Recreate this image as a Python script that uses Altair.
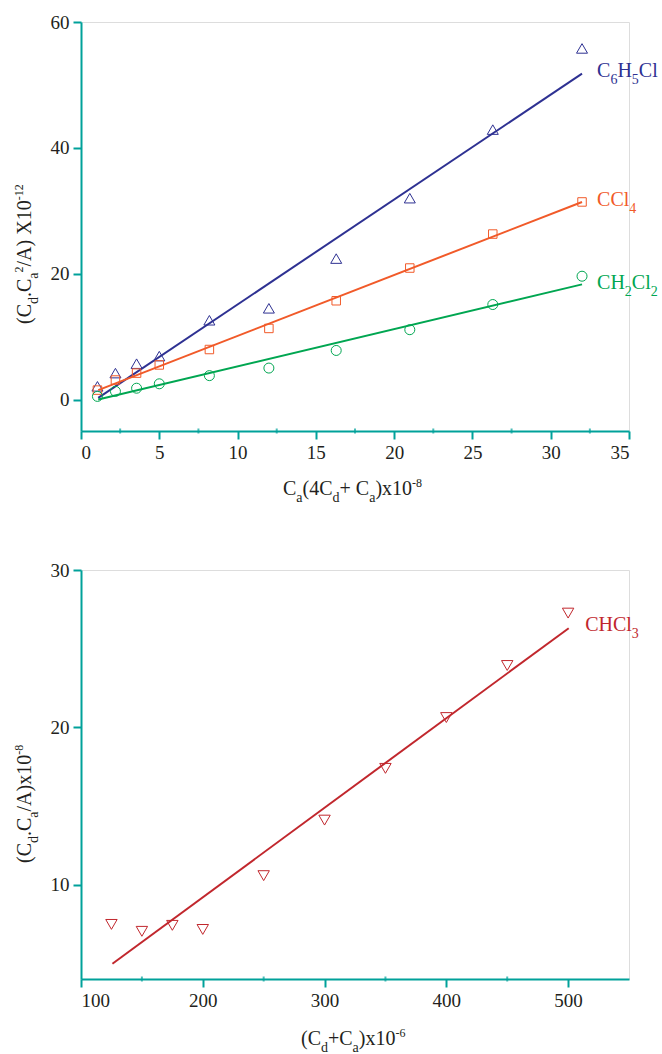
import altair as alt
import pandas as pd

# ---------------- data ----------------
# top panel
top_x = [1.05, 2.2, 3.55, 5.0, 8.2, 12.0, 16.3, 21.0, 26.3, 32.0]
c6h5cl_y = [2.1, 4.2, 5.7, 6.9, 12.6, 14.5, 22.4, 32.0, 42.9, 55.8]
ccl4_y = [1.5, 3.1, 4.2, 5.5, 7.95, 11.3, 15.7, 20.9, 26.3, 31.4]
ch2cl2_y = [0.5, 1.3, 1.8, 2.5, 3.8, 5.0, 7.8, 11.1, 15.1, 19.6]
fit_x = [1.1, 32.0]
c6h5cl_fit = [0.27, 51.8]
ccl4_fit = [1.5, 31.4]
ch2cl2_fit = [0.0, 18.3]
top_label_x = [32.96, 32.96, 32.96]
top_label_y = [51.2, 30.7, 17.5]
top_xticks = [0, 5, 10, 15, 20, 25, 30, 35]
top_xminor = [2.5, 7.5, 12.5, 17.5, 22.5, 27.5, 32.5]
top_yticks = [0, 20, 40, 60]

# bottom panel
bot_x = [125, 150, 175, 200, 250, 300, 350, 400, 450, 500]
chcl3_y = [7.47, 7.03, 7.41, 7.15, 10.57, 14.10, 17.39, 20.62, 23.93, 27.26]
chcl3_fit_x = [125.8, 500.5]
chcl3_fit = [4.97, 26.3]
bot_label_x = [514.0]
bot_label_y = [26.1]
bot_xticks = [100, 200, 300, 400, 500]
bot_xminor = [150, 250, 350, 450]
bot_yticks = [10, 20, 30]

# ---------------- styling ----------------
FONT = "Liberation Serif"
TEAL = "#00A19A"
TXT = "#231F20"
BLUE = "#2E3192"
ORANGE = "#F15A29"
GREEN = "#00A651"
RED = "#C1272D"

# Times / Liberation Serif advance widths (per 1000 em)
W = {' ': 250, '(': 333, ')': 333, '+': 564, '-': 333, '.': 250, '/': 278,
     'A': 722, 'C': 667, 'H': 722, 'X': 722, 'a': 444, 'd': 500, 'l': 278, 'x': 500}


def tw(s, size):
    return sum(W.get(c, 500) for c in s) * size / 1000.0


def rich(segs, data, x, y, color, angle=0, size=20, sub=14, sup=12, sub_dy=7, sup_dy=-8):
    out = []
    off = 0.0
    for t, k in segs:
        if k == "n":
            fs, dy = size, 0
        elif k == "b":
            fs, dy = sub, sub_dy
        else:
            fs, dy = sup, sup_dy
        out.append(
            alt.Chart(data).mark_text(
                text=t, font=FONT, fontSize=fs, color=color, align="left",
                baseline="alphabetic", angle=angle, dx=round(off, 2), dy=dy
            ).encode(x=x, y=y)
        )
        off += tw(t, fs)
    return out


def axis(values):
    return alt.Axis(values=values, title=None, grid=False, domainColor=TEAL, domainWidth=2,
                    tickColor=TEAL, tickWidth=2, tickSize=8, labelFont=FONT, labelFontSize=19,
                    labelColor=TXT, labelPadding=4)


one = pd.DataFrame({"k": [0]})

# ---------------- top panel ----------------
XT = alt.X("x:Q", scale=alt.Scale(domain=[0, 35], nice=False, zero=False), axis=axis(top_xticks))
YT = alt.Y("y:Q", scale=alt.Scale(domain=[-5, 60], nice=False, zero=False), axis=axis(top_yticks))

top_layers = []
series = [
    (c6h5cl_y, c6h5cl_fit, BLUE, "triangle-up", 121),
    (ccl4_y, ccl4_fit, ORANGE, "square", 72),
    (ch2cl2_y, ch2cl2_fit, GREEN, "circle", 100),
]
for ys, fit, col, shp, sz in series:
    top_layers.append(
        alt.Chart(pd.DataFrame({"x": fit_x, "y": fit})).mark_line(color=col, strokeWidth=2).encode(x=XT, y=YT)
    )
    top_layers.append(
        alt.Chart(pd.DataFrame({"x": top_x, "y": ys})).mark_point(
            shape=shp, size=sz, filled=False, color=col, strokeWidth=1, opacity=1
        ).encode(x=XT, y=YT)
    )

top_layers.append(
    alt.Chart(pd.DataFrame({"x": top_xminor, "y": [-5] * len(top_xminor)})).mark_tick(
        color=TEAL, thickness=2, size=5, orient="vertical"
    ).encode(x=XT, y=YT)
)

lab_segs = [
    ([("C", "n"), ("6", "b"), ("H", "n"), ("5", "b"), ("Cl", "n")], BLUE),
    ([("CCl", "n"), ("4", "b")], ORANGE),
    ([("CH", "n"), ("2", "b"), ("Cl", "n"), ("2", "b")], GREEN),
]
for i, (segs, col) in enumerate(lab_segs):
    d = pd.DataFrame({"x": [top_label_x[i]], "y": [top_label_y[i]]})
    top_layers += rich(segs, d, XT, YT, col)

# axis titles
top_layers += rich(
    [("C", "n"), ("a", "b"), ("(4C", "n"), ("d", "b"), ("+ C", "n"), ("a", "b"), (")x10", "n"), ("-8", "p")],
    one, alt.value(202), alt.value(473), TXT)
top_layers += rich(
    [("(C", "n"), ("d", "b"), (".C", "n"), ("a", "b"), ("2", "p"), ("/A) X10", "n"), ("-12", "p")],
    one, alt.value(-50), alt.value(302), TXT, angle=270)

top = alt.layer(*top_layers).properties(width=548, height=409)

# ---------------- bottom panel ----------------
XB = alt.X("x:Q", scale=alt.Scale(domain=[100, 550], nice=False, zero=False), axis=axis(bot_xticks))
YB = alt.Y("y:Q", scale=alt.Scale(domain=[4, 30], nice=False, zero=False), axis=axis(bot_yticks))

bot_layers = [
    alt.Chart(pd.DataFrame({"x": chcl3_fit_x, "y": chcl3_fit})).mark_line(color=RED, strokeWidth=2).encode(x=XB, y=YB),
    alt.Chart(pd.DataFrame({"x": bot_x, "y": chcl3_y})).mark_point(
        shape="triangle-down", size=130, filled=False, color=RED, strokeWidth=1, opacity=1
    ).encode(x=XB, y=YB),
    alt.Chart(pd.DataFrame({"x": bot_xminor, "y": [4] * len(bot_xminor)})).mark_tick(
        color=TEAL, thickness=2, size=5, orient="vertical"
    ).encode(x=XB, y=YB),
]
bot_layers += rich([("CHCl", "n"), ("3", "b")],
                   pd.DataFrame({"x": bot_label_x, "y": bot_label_y}), XB, YB, RED)
bot_layers += rich(
    [("(C", "n"), ("d", "b"), ("+C", "n"), ("a", "b"), (")x10", "n"), ("-6", "p")],
    one, alt.value(220), alt.value(475), TXT)
bot_layers += rich(
    [("(C", "n"), ("d", "b"), (".C", "n"), ("a", "b"), ("/A)x10", "n"), ("-8", "p")],
    one, alt.value(-50), alt.value(293), TXT, angle=270)

bottom = alt.layer(*bot_layers).properties(width=548, height=409)

chart = alt.vconcat(top, bottom, spacing=54).properties(
    padding={"left": 12, "top": 12, "right": 0, "bottom": 0}
).configure_view(strokeOpacity=0).configure(background="white")

chart.save("out.html", embed_options={"renderer": "svg", "actions": False})
